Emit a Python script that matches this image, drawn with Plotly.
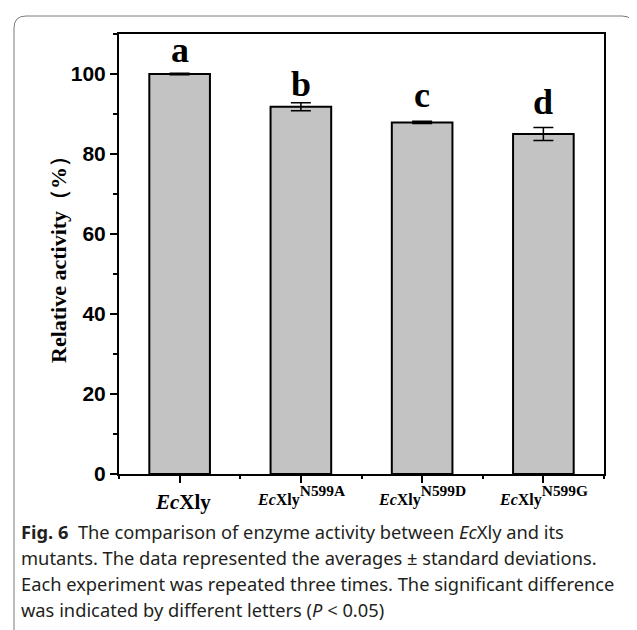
import plotly.graph_objects as go

categories = ["EcXly", "EcXly N599A", "EcXly N599D", "EcXly N599G"]
base_label = "<i>Ec</i>Xly"
superscripts = ["", "N599A", "N599D", "N599G"]
activity = [100.0, 91.8, 87.9, 85.0]
std_dev = [0.2, 1.0, 0.3, 1.6]
letters = ["a", "b", "c", "d"]
letter_y = [100.6, 92.0, 89.2, 87.6]
y_ticks = [0, 20, 40, 60, 80, 100]

OFF = 8  # page body margin
W, H = 637 - OFF, 630 - OFF
L, R, T, B = 119 - OFF, 604 - OFF, 34 - OFF, 474 - OFF


def px(x):
    return (x - OFF - L) / (R - L)


def py(y):
    return (B - (y - OFF)) / (B - T)


xs = list(range(len(categories)))

fig = go.Figure()
fig.add_trace(go.Bar(
    x=xs, y=activity, width=0.5,
    marker=dict(color="#c3c3c3", line=dict(color="black", width=2)),
    error_y=dict(type="data", array=std_dev, visible=True, color="black",
                 thickness=1.5, width=10),
    hovertext=categories,
))

for xi, lt, ly in zip(xs, letters, letter_y):
    fig.add_annotation(x=xi, y=ly, xref="x", yref="y", text=f"<b>{lt}</b>",
                       showarrow=False, yanchor="bottom",
                       font=dict(family="Liberation Serif", size=36, color="black"))

# x category labels
for xi, sup in zip(xs, superscripts):
    if not sup:
        fig.add_annotation(x=xi + 0.03, y=py(502), xref="x", yref="paper",
                           text=f"<b>{base_label}</b>",
                           showarrow=False, yanchor="middle",
                           font=dict(family="Liberation Serif", size=21, color="black"))
    else:
        txt = (f"<span style='font-size:16px'><b>{base_label}</b></span>"
               f"<sup><b>{sup}</b></sup>")
        fig.add_annotation(x=xi, y=py(495), xref="x", yref="paper", text=txt,
                           showarrow=False, yanchor="middle",
                           font=dict(family="Liberation Serif", size=22, color="black"))

# y title
fig.add_annotation(x=px(58), y=py(254), xref="paper", yref="paper",
                   text="<b>Relative activity（%）</b>", textangle=-90,
                   showarrow=False, xanchor="center", yanchor="middle",
                   font=dict(family="Liberation Serif", size=22, color="black"))

caption = [
    "<b>Fig. 6</b>  The comparison of enzyme activity between <i>Ec</i>Xly and its",
    "mutants. The data represented the averages ± standard deviations.",
    "Each experiment was repeated three times. The significant difference",
    "was indicated by different letters (<i>P</i> &lt; 0.05)",
]
cap_y = [531, 557, 583, 609]
for line, cy in zip(caption, cap_y):
    fig.add_annotation(x=px(19), y=py(cy), xref="paper", yref="paper",
                       text=line, showarrow=False, xanchor="left", yanchor="middle",
                       font=dict(family="Noto Sans", size=18.3, color="#231f20"))

# card border (rounded, open at bottom)
x0, x1, y0, y1, r = px(14), px(634), py(16), py(660), 12
rx = r / (R - L)
ry = r / (B - T)
path = (f"M {x0},{y1} L {x0},{y0 - ry} Q {x0},{y0} {x0 + rx},{y0} "
        f"L {x1 - rx},{y0} Q {x1},{y0} {x1},{y0 - ry} L {x1},{y1}")
fig.add_shape(type="path", path=path, xref="paper", yref="paper",
              line=dict(color="#7a7a7a", width=1))

fig.update_layout(
    width=W, height=H,
    margin=dict(l=L, r=W - R, t=T, b=H - B),
    paper_bgcolor="white", plot_bgcolor="white",
    showlegend=False,
    xaxis=dict(
        range=[-0.5, 3.5], tickvals=xs, showticklabels=False,
        ticks="outside", ticklen=7, tickwidth=2, tickcolor="black",
        showline=True, linecolor="black", linewidth=2, mirror=True,
        showgrid=False, zeroline=False,
        minor=dict(tickvals=[-0.5, 0.5, 1.5, 2.5, 3.5], ticks="outside",
                   ticklen=3, tickwidth=2, tickcolor="black", showgrid=False),
    ),
    yaxis=dict(
        range=[0, 110], tickvals=y_ticks,
        ticks="outside", ticklen=7, tickwidth=2, tickcolor="black",
        showline=True, linecolor="black", linewidth=2, mirror=True,
        showgrid=False, zeroline=False,
        tickfont=dict(family="Liberation Sans", size=21, color="black", weight="bold"),
        minor=dict(dtick=10, ticks="outside", ticklen=4, tickwidth=2,
                   tickcolor="black", showgrid=False),
    ),
)

fig.write_html("out.html")
